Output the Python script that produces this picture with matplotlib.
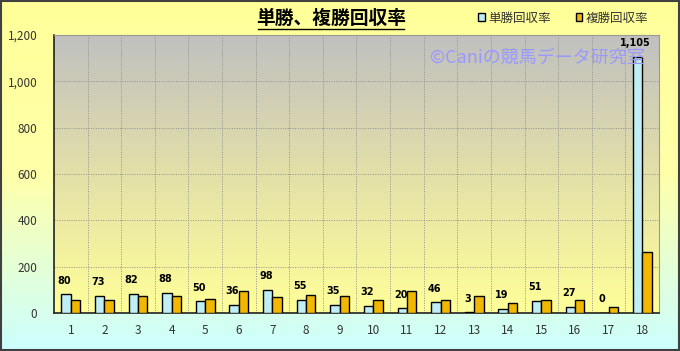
import numpy as np
import matplotlib
matplotlib.use('Agg')
import matplotlib.pyplot as plt
from matplotlib.colors import LinearSegmentedColormap

plt.rcParams['font.family'] = ['Noto Sans CJK JP', 'DejaVu Sans']

# data
categories = [str(i) for i in range(1, 19)]
tansho = [80, 73, 82, 88, 50, 36, 98, 55, 35, 32, 20, 46, 3, 19, 51, 27, 0, 1105]
fukusho = [55, 55, 73, 72, 60, 93, 68, 78, 75, 57, 93, 55, 72, 43, 57, 55, 26, 263]
yticks = [0, 200, 400, 600, 800, 1000, 1200]
ytick_labels = ['0', '200', '400', '600', '800', '1,000', '1,200']

fig = plt.figure(figsize=(6.8, 3.51), dpi=100)

# outer background gradient (yellow top -> light cyan bottom)
bg = fig.add_axes([0, 0, 1, 1], zorder=-10)
bg_cmap = LinearSegmentedColormap.from_list('bg', ['#FFFF99', '#FFFFAA', '#CCFFFF'])
bg.imshow(np.linspace(0, 1, 256).reshape(-1, 1), aspect='auto', cmap=bg_cmap,
          extent=[0, 1, 0, 1], origin='upper')
bg.set_xlim(0, 1)
bg.set_ylim(0, 1)
bg.axis('off')
fig.patches.append(plt.Rectangle((0.0015, 0.003), 0.997, 0.994, transform=fig.transFigure,
                                 fill=False, edgecolor='#404040', linewidth=1.5))

ax = fig.add_axes([54 / 680, 1 - 313 / 351, 605 / 680, 278 / 351])

# plot area gradient (gray top -> yellow bottom)
pa_cmap = LinearSegmentedColormap.from_list('pa', ['#C0C0C0', '#E3E0A8', '#FFFF99'])
ax.imshow(np.linspace(0, 1, 256).reshape(-1, 1), aspect='auto', cmap=pa_cmap,
          extent=[0.5, 18.5, 0, 1200], origin='upper', zorder=0)
ax.set_xlim(0.5, 18.5)
ax.set_ylim(0, 1200)

x = np.arange(1, 19)
w = 0.28
ax.bar(x - w / 2, tansho, w, color='#BFEFF5', edgecolor='black', linewidth=1.0, zorder=3,
       label='単勝回収率')
ax.bar(x + w / 2, fukusho, w, color='#F2B800', edgecolor='black', linewidth=1.0, zorder=3,
       label='複勝回収率')

for xi, v in zip(x, tansho):
    ax.text(xi - w / 2 - 0.05, v + 38, f'{v:,}', ha='center', va='bottom', fontsize=7,
            fontweight='bold', color='black', zorder=5, family='DejaVu Sans')

# grid
for b in np.arange(1.5, 18.5, 1):
    ax.axvline(b, color='#909090', linestyle=(0, (1, 1.5)), linewidth=0.7, zorder=1)
for t in yticks[1:]:
    ax.axhline(t, color='#909090', linestyle=(0, (1, 1.5)), linewidth=0.7, zorder=1)

ax.set_xticks(x)
ax.set_xticklabels(categories)
ax.set_yticks(yticks)
ax.set_yticklabels(ytick_labels)
ax.tick_params(axis='both', length=0, labelsize=8.5, colors='#333333')
ax.tick_params(axis='x', pad=8)
ax.tick_params(axis='y', pad=12)
for s in ['top', 'right']:
    ax.spines[s].set_color('#999999')
for s in ['left', 'bottom']:
    ax.spines[s].set_color('#222222')
    ax.spines[s].set_linewidth(1.2)

# watermark
ax.text(0.621, 0.918, '©Caniの競馬データ研究室', transform=ax.transAxes, fontsize=13,
        color='#9999FF', ha='left', va='center', zorder=4)

# title
fig.text(331 / 680, 1 - 18 / 351, '単勝、複勝回収率', ha='center', va='center',
         fontsize=13.5, fontweight='bold')
fig.add_artist(plt.Line2D([258 / 680, 404 / 680], [1 - 29 / 351, 1 - 29 / 351],
                          color='black', linewidth=1.0))

# legend
fig.legend(loc='center', bbox_to_anchor=(563 / 680, 1 - 18 / 351), ncol=2, frameon=False,
           fontsize=9, handlelength=0.55, handleheight=0.55, handletextpad=0.25,
           columnspacing=2.0, labelcolor='#333333')

fig.savefig('out.png', dpi=100)
